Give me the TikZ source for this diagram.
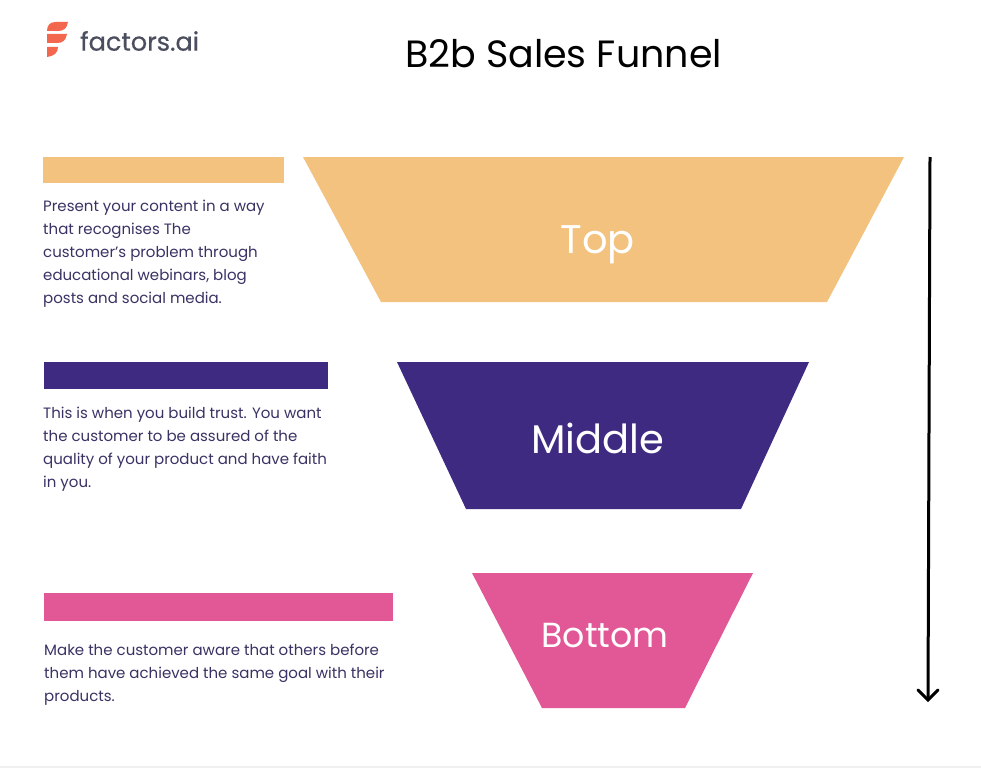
\documentclass[tikz,border=0pt]{standalone}
\usepackage{fontspec}
\setmainfont{Poppins}
\definecolor{topc}{HTML}{F2C27E}
\definecolor{midc}{HTML}{3F2A82}
\definecolor{botc}{HTML}{E25897}
\definecolor{bodyc}{HTML}{3A3264}
\definecolor{logoc}{HTML}{4A4E5E}
\definecolor{logoa}{HTML}{F4674F}
\tikzset{
  bar/.style={draw=none,anchor=north west,inner sep=0pt,outer sep=0pt},
  bodytext/.style={anchor=north west,inner sep=0pt,text=bodyc,font=\fontsize{15}{23}\selectfont,align=left},
  funnellabel/.style={text=white,inner sep=0pt,anchor=center},
}
\begin{document}
\begin{tikzpicture}[x=1pt,y=-1pt]
\useasboundingbox (0,0) rectangle (981,768);
\fill[white] (0,0) rectangle (981,768);
\fill[black!6] (0,766) rectangle (981,768);
% logo
\fill[logoa] (47,31) .. controls (47,25) and (50,22) .. (56,22) -- (68,22) .. controls (67,28) and (64,31) .. (58,31) -- cycle;
\fill[logoa] (47,34) -- (67,34) .. controls (66,40) and (63,43) .. (57,43) -- (47,43) -- cycle;
\fill[logoa] (47,47) -- (58,47) .. controls (58,53) and (54,56) .. (47,57) -- cycle;
\node[anchor=west,inner sep=0pt,text=logoc,font=\fontsize{25.6}{26}\selectfont\addfontfeatures{FakeBold=0.5}] (logo) at (80,41) {factors.ai};
% title
\node[anchor=center,inner sep=0pt,text=black,font=\fontsize{38}{38}\selectfont] (title) at (563.5,54) {B2b Sales Funnel};
% funnels
\fill[topc] (303,157) -- (904,157) -- (827,302) -- (381,302) -- cycle;
\fill[midc] (397,362) -- (809,362) -- (741,509) -- (466,509) -- cycle;
\fill[botc] (472,573) -- (753,573) -- (685,708) -- (542,708) -- cycle;
\node[funnellabel,font=\fontsize{40}{40}\selectfont] (ltop) at (597.5,245) {Top};
\node[funnellabel,font=\fontsize{40}{40}\selectfont] (lmid) at (598,438.5) {Middle};
\node[funnellabel,font=\fontsize{34.8}{35}\selectfont] (lbot) at (605,636) {Bottom};
% bars
\fill[topc] (43,157) rectangle (284,183);
\fill[midc] (44,362) rectangle (328,389);
\fill[botc] (44,593) rectangle (393,621);
% texts
\node[bodytext] (t1) at (43,199.5) {Present your content in a way\\that recognises The\\customer’s problem through\\educational webinars, blog\\posts and social media.};
\node[bodytext] (t2) at (43,406.5) {This is when you build trust. You want\\the customer to be assured of the\\quality of your product and have faith\\in you.};
\node[bodytext] (t3) at (44,643.5) {Make the customer aware that others before\\them have achieved the same goal with their\\products.};
% arrow
\coordinate (as) at (930,157);
\coordinate (ae) at (928,700);
\draw[black,line width=3pt] (as) -- (ae);
\draw[black,line width=3pt,line cap=round,line join=miter] (918,690) -- (ae) -- (938,690);
\end{tikzpicture}
\end{document}
